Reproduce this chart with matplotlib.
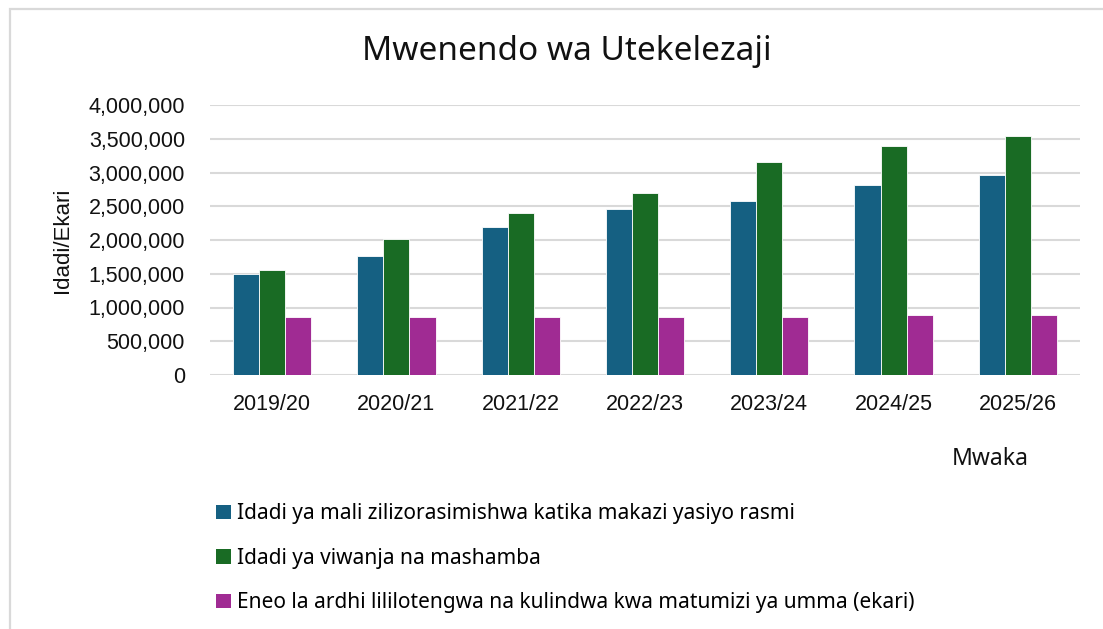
import matplotlib
matplotlib.use("Agg")
import matplotlib.pyplot as plt
import numpy as np
from matplotlib.patches import Patch, Rectangle
from matplotlib.ticker import FuncFormatter

years = ["2019/20", "2020/21", "2021/22", "2022/23", "2023/24", "2024/25", "2025/26"]
mali = [1490000, 1760000, 2200000, 2460000, 2580000, 2810000, 2960000]
viwanja = [1550000, 2020000, 2400000, 2690000, 3160000, 3400000, 3540000]
eneo = [860000, 860000, 860000, 860000, 860000, 885000, 885000]

labels = ["Idadi ya mali zilizorasimishwa katika makazi yasiyo rasmi",
          "Idadi ya viwanja na mashamba",
          "Eneo la ardhi lililotengwa na kulindwa kwa matumizi ya umma (ekari)"]
colors = ["#156082", "#196B24", "#A02B93"]

W, H = 1103, 629
fig = plt.figure(figsize=(W / 100, H / 100), dpi=100)

# chart frame (left and top edges visible)
fig.patches.append(Rectangle((10 / W, -0.1), 1.2, 1 - 9 / H + 0.1, transform=fig.transFigure,
                             facecolor="none", edgecolor="#d9d9d9", linewidth=1.6))

ax = fig.add_axes([210 / W, 1 - 375 / H, 870 / W, 270 / H])
x = np.arange(len(years))
slot = 0.21
for i, vals in enumerate([mali, viwanja, eneo]):
    ax.bar(x + (i - 1) * slot, vals, width=slot, color=colors[i],
           edgecolor="white", linewidth=0.6, zorder=3)

ax.set_xlim(-0.5, len(years) - 0.5)
ax.set_ylim(0, 4000000)
ax.set_yticks(np.arange(0, 4000001, 500000))
ax.yaxis.set_major_formatter(FuncFormatter(lambda v, p: f"{int(v):,}"))
ax.set_xticks(x)
ax.set_xticklabels(years)
ax.grid(axis="y", color="#d9d9d9", linewidth=1.5, zorder=0)
for s in ["top", "right", "left", "bottom"]:
    ax.spines[s].set_visible(False)
ax.tick_params(axis="both", length=0)
ax.tick_params(axis="y", pad=18)
ax.tick_params(axis="x", pad=14)
for t in ax.get_yticklabels() + ax.get_xticklabels():
    t.set_fontfamily("Liberation Sans")
    t.set_fontsize(15.5)
    t.set_color("#111111")

fig.text(63 / W, 1 - 240 / H, "Idadi/Ekari", rotation=90, ha="center", va="center",
         fontsize=16, family="Liberation Sans", color="#111111")
fig.text(567 / W, 1 - 52 / H, "Mwenendo wa Utekelezaji", ha="center", va="center",
         fontsize=24, family="Noto Sans", color="#111111")
fig.text(990 / W, 1 - 459 / H, "Mwaka", ha="center", va="center",
         fontsize=16.5, family="Noto Sans", color="#111111")

handles = [Patch(facecolor=c, edgecolor="none") for c in colors]
fig.legend(handles, labels, loc="upper left", bbox_to_anchor=(206 / W, 1 - 493 / H),
           frameon=False, borderpad=0, handlelength=0.7, handleheight=0.7,
           handletextpad=0.3, labelspacing=1.12,
           prop={"family": "Noto Sans", "size": 15})

fig.savefig("out.png", dpi=100, facecolor="white")
